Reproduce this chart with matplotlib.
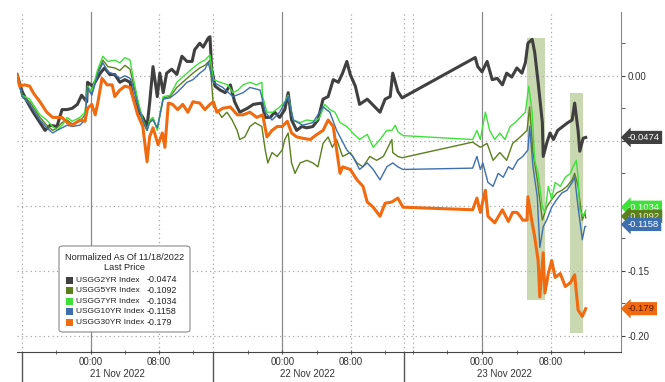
import numpy as np
import matplotlib.pyplot as plt
from matplotlib.patches import Rectangle, FancyBboxPatch

plt.rcParams['font.family'] = ['Liberation Sans', 'DejaVu Sans']
plt.rcParams['axes.unicode_minus'] = False

# x = session hours from 21 Nov 00:00 (gaps compressed as on the terminal axis)
usgg2yr = [
    (-8.7, 0.001), (-8.1, -0.012), (-7.5, -0.020), (-6.8, -0.028), (-6.0, -0.036), (-5.4, -0.042),
    (-4.8, -0.038), (-4.0, -0.039), (-3.4, -0.026), (-2.8, -0.026), (-2.2, -0.025), (-1.6, -0.022),
    (-1.1, -0.015), (-0.5, -0.020), (-0.4, -0.005), (0.2, -0.008), (1.1, 0.002), (1.6, 0.006),
    (2.2, 0.001), (2.8, 0.001), (3.4, -0.005), (4.0, -0.003), (4.6, -0.005), (4.9, -0.015),
    (5.5, -0.026), (6.1, -0.032), (6.6, -0.039), (6.9, -0.021), (7.3, 0.007), (7.8, -0.016),
    (8.1, 0.002), (8.5, -0.013), (8.9, 0.002), (9.5, 0.005), (10.1, 0.001), (10.7, 0.015),
    (11.3, 0.011), (11.9, 0.011), (12.2, 0.020), (12.8, 0.025), (13.2, 0.022), (13.8, 0.029),
    (14.0, 0.030), (14.2, 0.005), (14.6, -0.008), (15.2, -0.011), (15.8, -0.013), (16.4, -0.007),
    (16.9, -0.020), (17.5, -0.028), (18.4, -0.025), (19.1, -0.022), (20.1, -0.021), (20.5, -0.032),
    (21.1, -0.032), (21.6, -0.028), (22.2, -0.032), (22.8, -0.026), (23.2, -0.013), (23.6, -0.034),
    (24.2, -0.042), (24.8, -0.039), (25.4, -0.040), (26.1, -0.039), (26.7, -0.034), (27.3, -0.018),
    (27.9, -0.016), (28.5, -0.003), (29.1, -0.005), (29.6, 0.002), (30.1, 0.011), (30.5, 0.001),
    (31.1, -0.008), (31.6, -0.022), (32.5, -0.018), (33.1, -0.022), (34.0, -0.028), (34.6, -0.018),
    (35.2, -0.016), (35.5, 0.002), (36.1, -0.012), (36.6, -0.017), (45.2, 0.014), (45.5, 0.007),
    (46.0, 0.003), (46.6, 0.011), (47.2, -0.003), (47.8, -0.002), (48.4, -0.007), (48.9, 0.002),
    (49.5, -0.001), (50.1, 0.006), (50.7, 0.002), (51.1, 0.010), (51.4, 0.025), (51.9, 0.028),
    (52.2, 0.018), (52.6, -0.005), (53.1, -0.036), (53.2, -0.062), (53.6, -0.052), (54.0, -0.044),
    (54.4, -0.049), (54.9, -0.042), (55.5, -0.039), (56.1, -0.036), (56.6, -0.034), (56.9, -0.021),
    (57.3, -0.042), (57.5, -0.058), (57.9, -0.048), (58.2, -0.0474),
]

usgg5yr = [
    (-8.7, 0.001), (-8.1, -0.016), (-7.2, -0.020), (-6.0, -0.032), (-5.2, -0.038), (-4.5, -0.042),
    (-4.0, -0.040), (-3.4, -0.036), (-2.8, -0.034), (-2.2, -0.037), (-1.3, -0.035), (-0.7, -0.030),
    (-0.4, -0.010), (0.1, -0.014), (0.8, 0.003), (1.4, 0.012), (2.0, 0.007), (2.8, 0.006),
    (3.4, 0.004), (4.0, 0.008), (4.6, 0.005), (4.9, -0.004), (5.5, -0.020), (6.1, -0.035),
    (6.6, -0.042), (6.9, -0.035), (7.3, -0.033), (7.8, -0.041), (8.5, -0.017), (9.3, -0.016),
    (10.1, -0.009), (11.3, -0.002), (12.0, 0.002), (12.8, 0.006), (13.4, 0.008), (14.0, 0.012),
    (14.4, -0.024), (14.8, -0.026), (15.4, -0.032), (16.0, -0.028), (16.6, -0.034), (17.2, -0.042),
    (17.5, -0.049), (18.1, -0.047), (18.7, -0.039), (19.3, -0.036), (20.1, -0.039), (20.5, -0.057),
    (20.8, -0.067), (21.3, -0.059), (21.9, -0.062), (22.5, -0.057), (22.8, -0.049), (23.2, -0.044),
    (23.6, -0.067), (24.0, -0.075), (24.6, -0.067), (25.4, -0.065), (26.1, -0.067), (26.7, -0.070),
    (27.3, -0.052), (27.9, -0.047), (28.4, -0.055), (28.9, -0.049), (29.6, -0.062), (30.5, -0.059),
    (31.3, -0.067), (32.0, -0.070), (32.8, -0.062), (33.6, -0.065), (34.4, -0.062), (35.4, -0.049),
    (35.5, -0.059), (36.1, -0.062), (36.6, -0.063), (44.9, -0.051), (45.8, -0.055), (46.6, -0.052),
    (47.3, -0.065), (48.1, -0.059), (48.9, -0.065), (49.6, -0.052), (50.5, -0.047), (51.3, -0.042),
    (51.6, -0.024), (52.0, -0.059), (52.5, -0.080), (53.1, -0.111), (53.6, -0.101), (54.2, -0.095),
    (54.8, -0.090), (55.4, -0.088), (56.0, -0.085), (56.6, -0.080), (56.9, -0.075), (57.3, -0.085),
    (57.8, -0.111), (58.1, -0.105), (58.2, -0.1092),
]

usgg7yr = [
    (-8.7, 0.001), (-8.1, -0.015), (-7.2, -0.018), (-6.0, -0.030), (-5.2, -0.034), (-4.5, -0.039),
    (-4.0, -0.042), (-3.4, -0.038), (-2.8, -0.032), (-2.2, -0.035), (-1.3, -0.032), (-0.7, -0.028),
    (-0.4, -0.008), (0.1, -0.012), (0.8, 0.005), (1.4, 0.015), (2.0, 0.011), (2.8, 0.012),
    (3.4, 0.010), (4.0, 0.014), (4.6, 0.012), (4.9, 0.001), (5.5, -0.018), (6.1, -0.034),
    (6.6, -0.042), (6.9, -0.034), (7.3, -0.032), (7.8, -0.042), (8.5, -0.016), (9.3, -0.015),
    (10.1, -0.005), (11.3, 0.002), (12.0, 0.006), (12.8, 0.010), (13.4, 0.012), (14.0, 0.016),
    (14.4, -0.003), (15.2, -0.005), (16.1, -0.007), (16.7, -0.013), (17.3, -0.011), (17.9, -0.007),
    (18.7, -0.005), (19.5, -0.007), (20.1, -0.005), (20.2, -0.016), (20.7, -0.028), (21.4, -0.028),
    (22.2, -0.024), (22.8, -0.020), (23.2, -0.015), (23.8, -0.034), (24.6, -0.036), (25.4, -0.034),
    (26.4, -0.035), (26.9, -0.032), (27.5, -0.022), (28.1, -0.026), (28.7, -0.028), (29.3, -0.036),
    (30.1, -0.039), (30.8, -0.044), (31.6, -0.049), (32.5, -0.045), (33.2, -0.055), (34.0, -0.049),
    (34.8, -0.042), (35.4, -0.042), (35.8, -0.038), (36.1, -0.043), (36.7, -0.046), (44.9, -0.049),
    (45.4, -0.042), (45.8, -0.049), (46.4, -0.028), (46.9, -0.042), (47.5, -0.049), (48.1, -0.044),
    (48.7, -0.049), (49.3, -0.039), (49.9, -0.036), (50.5, -0.032), (51.1, -0.028), (51.5, -0.008),
    (51.9, -0.028), (52.2, -0.065), (52.6, -0.075), (53.1, -0.101), (53.4, -0.105), (53.8, -0.085),
    (54.2, -0.095), (54.6, -0.082), (55.2, -0.085), (55.8, -0.078), (56.4, -0.075), (56.7, -0.070),
    (57.1, -0.065), (57.3, -0.078), (57.5, -0.103), (57.9, -0.108), (58.2, -0.1034),
]

usgg10yr = [
    (-8.7, 0.001), (-8.1, -0.016), (-7.2, -0.022), (-6.0, -0.034), (-5.2, -0.040), (-4.5, -0.044),
    (-4.0, -0.042), (-3.4, -0.040), (-2.8, -0.038), (-2.2, -0.039), (-1.3, -0.038), (-0.7, -0.034),
    (-0.4, -0.009), (0.1, -0.015), (0.8, 0.001), (1.4, 0.010), (2.0, 0.003), (2.8, 0.001),
    (3.4, -0.002), (4.0, 0.000), (4.6, -0.002), (4.9, -0.007), (5.5, -0.022), (6.1, -0.035),
    (6.6, -0.042), (6.9, -0.036), (7.3, -0.034), (7.8, -0.040), (8.5, -0.018), (9.3, -0.017),
    (10.1, -0.013), (11.3, -0.005), (12.0, -0.003), (12.8, 0.002), (13.4, 0.005), (13.8, 0.010),
    (14.4, -0.005), (15.5, -0.009), (16.7, -0.016), (17.9, -0.013), (18.7, -0.009), (19.9, -0.011),
    (20.5, -0.028), (21.3, -0.034), (22.2, -0.028), (23.2, -0.016), (23.8, -0.034), (24.9, -0.038),
    (26.1, -0.036), (27.3, -0.024), (28.1, -0.028), (28.9, -0.042), (29.3, -0.047), (30.1, -0.057),
    (30.8, -0.062), (31.6, -0.072), (32.5, -0.067), (33.2, -0.072), (34.0, -0.080), (34.8, -0.070),
    (35.5, -0.067), (36.1, -0.070), (36.7, -0.072), (44.9, -0.071), (45.4, -0.062), (45.8, -0.072),
    (46.1, -0.067), (46.7, -0.082), (47.3, -0.085), (47.9, -0.075), (48.5, -0.078), (49.1, -0.070),
    (49.6, -0.072), (50.2, -0.065), (50.8, -0.062), (51.4, -0.057), (51.6, -0.039), (52.0, -0.070),
    (52.5, -0.093), (52.8, -0.132), (53.2, -0.116), (53.6, -0.111), (54.2, -0.101), (54.8, -0.095),
    (55.4, -0.090), (56.0, -0.088), (56.6, -0.082), (56.9, -0.078), (57.3, -0.101), (57.8, -0.126),
    (58.1, -0.116), (58.2, -0.1158),
]

usgg30yr = [
    (-8.7, 0.001), (-8.4, -0.008), (-7.8, -0.007), (-7.2, -0.008), (-6.8, -0.013), (-6.0, -0.020),
    (-5.2, -0.028), (-4.5, -0.032), (-3.4, -0.032), (-2.8, -0.036), (-2.2, -0.038), (-1.3, -0.034),
    (-0.7, -0.035), (-0.4, -0.025), (0.1, -0.022), (0.5, -0.030), (0.8, -0.021), (1.3, -0.002),
    (1.9, -0.007), (2.5, -0.007), (2.8, -0.016), (3.4, -0.011), (4.0, -0.008), (4.6, -0.009),
    (4.9, -0.016), (5.5, -0.030), (6.1, -0.039), (6.6, -0.066), (6.9, -0.047), (7.3, -0.040),
    (7.9, -0.053), (8.4, -0.044), (8.7, -0.055), (9.1, -0.021), (9.6, -0.022), (10.2, -0.026),
    (10.8, -0.022), (11.4, -0.028), (12.0, -0.020), (12.8, -0.021), (13.4, -0.026), (14.0, -0.022),
    (14.4, -0.020), (14.8, -0.028), (15.5, -0.025), (16.4, -0.024), (17.2, -0.030), (17.9, -0.030),
    (18.7, -0.028), (19.5, -0.032), (20.2, -0.030), (20.7, -0.047), (21.3, -0.042), (21.9, -0.039),
    (22.5, -0.039), (23.1, -0.035), (23.6, -0.044), (24.2, -0.047), (24.9, -0.048), (25.8, -0.049),
    (26.6, -0.045), (27.3, -0.042), (27.9, -0.034), (28.5, -0.039), (28.9, -0.057), (29.3, -0.075),
    (29.6, -0.070), (30.5, -0.072), (31.3, -0.080), (32.0, -0.085), (32.5, -0.097), (33.2, -0.101),
    (34.0, -0.108), (34.6, -0.098), (35.4, -0.097), (36.1, -0.094), (36.7, -0.101), (44.9, -0.103),
    (45.4, -0.094), (45.8, -0.105), (46.4, -0.088), (46.7, -0.108), (47.5, -0.113), (48.4, -0.103),
    (49.1, -0.112), (49.6, -0.105), (50.1, -0.105), (50.5, -0.108), (50.8, -0.111), (51.3, -0.111),
    (51.4, -0.093), (51.9, -0.113), (52.2, -0.124), (52.6, -0.142), (52.8, -0.170), (53.2, -0.136),
    (53.4, -0.167), (53.8, -0.152), (54.2, -0.142), (54.6, -0.155), (55.2, -0.152), (55.8, -0.162),
    (56.4, -0.159), (56.9, -0.153), (57.3, -0.180), (57.8, -0.185), (58.2, -0.179),
]

names = ['USGG2YR Index', 'USGG5YR Index', 'USGG7YR Index', 'USGG10YR Index', 'USGG30YR Index']
last_txt = ['-0.0474', '-0.1092', '-0.1034', '-0.1158', '-0.179']
colors = ['#404040', '#5b7f1c', '#3fe03a', '#3d6fae', '#f06a10']
widths = [2.2, 1.0, 1.0, 1.0, 2.2]
series = [usgg2yr, usgg5yr, usgg7yr, usgg10yr, usgg30yr]

# highlighted windows (x0, x1, y0, y1)
shades = [(51.3, 53.4, -0.172, 0.029), (56.4, 57.9, -0.198, -0.013)]

# x axis
midnights = [0, 22.5, 46.0]
mornings = [8.0, 30.6, 54.1]
minor_x = [-4.1, 4.0, 12.0, 18.5, 26.6, 34.6, 37.9, 41.9, 50.1, 58.0]
day_breaks = [-8.1, 14.35, 36.8]
day_mid = [3.1, 25.5, 48.6]
day_labels = ['21 Nov 2022', '22 Nov 2022', '23 Nov 2022']

# right tags: text, placed value, box colour, text colour
tags = [('-0.0474', -0.0474, '#404040', 'white'),
        ('-0.1034', -0.1010, '#3fe03a', 'white'),
        ('-0.1092', -0.1080, '#5b7f1c', '#f0f0d0'),
        ('-0.1158', -0.1143, '#3d6fae', 'white'),
        ('-0.179', -0.179, '#f06a10', '#5a1a00')]

W, H = 665, 382
fig = plt.figure(figsize=(W / 100, H / 100), dpi=100)
ax = fig.add_axes([17 / W, 1 - 352 / H, (621 - 17) / W, (352 - 12) / H])

for x0, x1, y0, y1 in shades:
    ax.add_patch(Rectangle((x0, y0), x1 - x0, y1 - y0, color='#cad8b2', zorder=0.5, lw=0))

for s, c, lw in zip(series, colors, widths):
    xs, ys = np.array(s).T
    ax.plot(xs, ys, color=c, lw=lw, zorder=2, solid_joinstyle='round')

ax.set_xlim(-8.7, 62.35)
ax.set_ylim(-0.2123, 0.049)

# grid
for v in [0, -0.05, -0.10, -0.15, -0.20]:
    ax.axhline(v, color='#a8a8a8', lw=0.9, ls=(0, (1, 2.5)), zorder=1)
for x in mornings + day_breaks + [37.9]:
    ax.axvline(x, color='#a8a8a8', lw=0.9, ls=(0, (1, 2.5)), zorder=1)
for x in midnights:
    ax.axvline(x, color='#8a8a8a', lw=0.9, zorder=1)

for sp in ['top', 'left']:
    ax.spines[sp].set_visible(False)
ax.spines['bottom'].set_color('#444444')
ax.spines['right'].set_color('#888888')

ax.set_xticks(midnights + mornings)
ax.set_xticklabels(['00:00'] * 3 + ['08:00'] * 3)
ax.set_xticks(minor_x, minor=True)
ax.tick_params(axis='x', which='both', length=3, color='#555555', labelsize=7, pad=2,
               labelcolor='#333333', direction='inout')

sec = ax.secondary_xaxis('bottom')
sec.set_xticks(day_breaks)
sec.set_xticklabels([])
sec.tick_params(length=30, width=1.0, color='#555555')
sec.spines['bottom'].set_visible(False)

sec2 = ax.secondary_xaxis('bottom')
sec2.set_xticks(day_mid)
sec2.set_xticklabels(day_labels)
sec2.tick_params(length=0, pad=12, labelsize=7, labelcolor='#333333')
sec2.spines['bottom'].set_visible(False)

# -0.05 and -0.10 sit under the last-price tags, so only the others are printed
ax.yaxis.tick_right()
ax.set_yticks([0, -0.05, -0.10, -0.15, -0.20])
ax.set_yticklabels(['0.00', '', '', '-0.15', '-0.20'])
ax.set_yticks(np.arange(0.025, -0.21, -0.05), minor=True)
ax.tick_params(axis='y', which='both', length=3, color='#444444', labelsize=7, pad=2,
               labelcolor='#333333')

for txt, v, fc, tc in tags:
    ax.annotate(txt, xy=(1, v), xycoords=('axes fraction', 'data'), xytext=(5, 0),
                textcoords='offset points', ha='left', va='center', fontsize=6.8, color=tc,
                bbox=dict(boxstyle='larrow,pad=0.22', fc=fc, ec='none'),
                annotation_clip=False, zorder=5)

# legend box
def fx(px):
    return px / W


def fy(py):
    return 1 - py / H


box = FancyBboxPatch((fx(59), fy(332)), (190 - 59) / W, (332 - 246) / H,
                     boxstyle='round,pad=0,rounding_size=0.006', transform=fig.transFigure,
                     fc='white', ec='#8a8a8a', lw=0.8, zorder=3)
fig.add_artist(box)
fig.text(fx(124.5), fy(257), 'Normalized As Of 11/18/2022', ha='center', va='center',
         fontsize=6.6, color='#222222', zorder=4)
fig.text(fx(124.5), fy(268), 'Last Price', ha='center', va='center', fontsize=6.6,
         color='#222222', zorder=4)
for i, (nm, lv, c) in enumerate(zip(names, last_txt, colors)):
    yy = 280 + i * 10.6
    fig.add_artist(Rectangle((fx(66), fy(yy + 3.5)), 7 / W, 7 / H, transform=fig.transFigure,
                             fc=c, ec='none', zorder=4))
    fig.text(fx(76), fy(yy), nm, ha='left', va='center', fontsize=6.0, color='#222222', zorder=4)
    fig.text(fx(147), fy(yy), lv, ha='left', va='center', fontsize=6.4, color='#222222', zorder=4)

fig.savefig('out.png', dpi=100)
